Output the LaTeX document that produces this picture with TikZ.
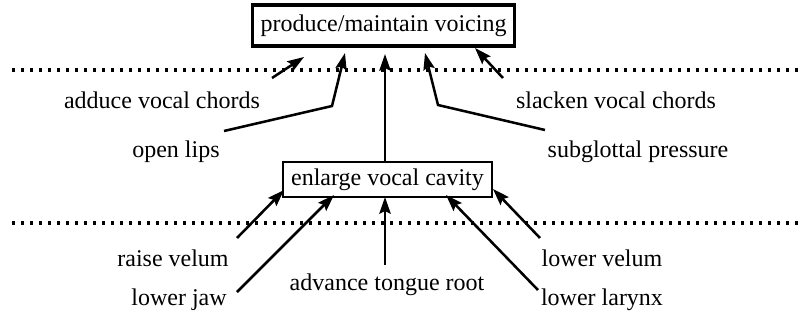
\documentclass[tikz,border=0pt]{standalone}
\usepackage{fontspec}
\setmainfont{Liberation Serif}
\usetikzlibrary{arrows.meta}
\begin{document}
\begin{tikzpicture}[x=0.75pt,y=-0.75pt,
  every node/.style={font=\fontsize{18}{20}\selectfont, inner sep=0pt},
  goalbox/.style={draw, line width=2.3pt, minimum width=197pt, minimum height=30.75pt},
  subbox/.style={draw, line width=1.7pt, minimum width=156.75pt, minimum height=26.25pt},
  lbl/.style={anchor=center},
  arr/.style={line width=1.9pt, -{Stealth[length=12.5pt,width=8.5pt,inset=2pt]}},
  level/.style={line width=2.3pt, dash pattern=on 2.3pt off 4.45pt}
]
\useasboundingbox (0,0) rectangle (804,322);

% goal boxes
\node[goalbox] (voicing) at (383.5,25.5) {produce/maintain voicing};
\node[subbox] (cavity) at (387.5,179.5) {enlarge vocal cavity};

% level separators
\coordinate (sepAl) at (12,70);  \coordinate (sepAr) at (802,70);
\coordinate (sepBl) at (12,223); \coordinate (sepBr) at (802,223);
\draw[level] (sepAl) -- (sepAr);
\draw[level] (sepBl) -- (sepBr);

% labels of the upper level
\node[lbl] (adduce) at (162,100) {adduce vocal chords};
\node[lbl] (lips) at (176,152) {open lips};
\node[lbl] (slacken) at (616,100) {slacken vocal chords};
\node[lbl] (subglottal) at (638,152) {subglottal pressure};

% labels of the lower level
\node[lbl] (rvelum) at (173,258) {raise velum};
\node[lbl] (jaw) at (179,300) {lower jaw};
\node[lbl] (tongue) at (387,285) {advance tongue root};
\node[lbl] (lvelum) at (602,258) {lower velum};
\node[lbl] (larynx) at (602,300) {lower larynx};

% connector end points
\coordinate (adduceS) at (272,78);  \coordinate (adduceT) at (304,57);
\coordinate (lipsS) at (224,131);   \coordinate (lipsK) at (332,106);  \coordinate (lipsT) at (345,53);
\coordinate (cavityT) at (385,54);
\coordinate (subS) at (545,130);    \coordinate (subK) at (438,105);   \coordinate (subT) at (425,53);
\coordinate (slackS) at (503,78);   \coordinate (slackT) at (475,48);

\coordinate (rvS) at (237,238);     \coordinate (rvT) at (284,190);
\coordinate (jawS) at (237,292);    \coordinate (jawT) at (334,195);
\coordinate (tongueS) at (385,265); \coordinate (tongueT) at (385,197);
\coordinate (lvS) at (540,238);     \coordinate (lvT) at (493,189);
\coordinate (larS) at (538,290);    \coordinate (larT) at (446,195);

% upper level connectors
\draw[arr] (adduceS) -- (adduceT);
\draw[arr] (lipsS) -- (lipsK) -- (lipsT);
\draw[arr] (cavity.north -| cavityT) -- (cavityT);
\draw[arr] (subS) -- (subK) -- (subT);
\draw[arr] (slackS) -- (slackT);

% lower level connectors
\draw[arr] (rvS) -- (rvT);
\draw[arr] (jawS) -- (jawT);
\draw[arr] (tongueS) -- (tongueT);
\draw[arr] (lvS) -- (lvT);
\draw[arr] (larS) -- (larT);
\end{tikzpicture}
\end{document}
